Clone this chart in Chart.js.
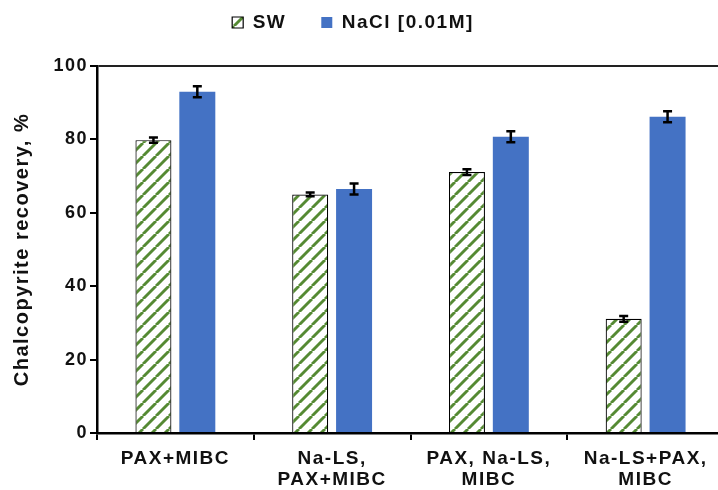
<!DOCTYPE html>
<html>
<head>
<meta charset="utf-8">
<script src="https://cdn.jsdelivr.net/npm/chart.js@4/dist/chart.umd.min.js"></script>
<style>
  html, body { margin: 0; padding: 0; background: #fff; overflow: hidden; }
  #wrap { position: relative; width: 728px; height: 490px; }
</style>
</head>
<body>
<div id="wrap"><canvas id="c" width="728" height="490"></canvas></div>
<script>
// Flotation conditions (x categories), one label line per array entry
const categories = [
  ['PAX+MIBC'],
  ['Na-LS,', 'PAX+MIBC'],
  ['PAX, Na-LS,', 'MIBC'],
  ['Na-LS+PAX,', 'MIBC']
];
const seriesNames = ['SW', 'NaCl [0.01M]'];

// Chalcopyrite recovery, % and standard deviation
const swRecovery   = [79.8, 65.0, 71.1, 31.1];
const swError      = [0.7, 0.5, 0.8, 0.8];
const naclRecovery = [93.0, 66.5, 80.7, 86.2];
const naclError    = [1.5, 1.5, 1.5, 1.5];

const yTicks = [0, 20, 40, 60, 80, 100];
const yTitle = 'Chalcopyrite recovery, %';

const FONT = '"Liberation Sans", Arial, sans-serif';
const TEXT = '#111';

// Green diagonal hatch for the seawater bars
function makeHatch() {
  const s = 13;
  const cv = document.createElement('canvas');
  cv.width = s; cv.height = s;
  const g = cv.getContext('2d');
  g.fillStyle = '#ffffff';
  g.fillRect(0, 0, s, s);
  g.strokeStyle = '#558a33';
  g.lineWidth = 2.9;
  g.beginPath();
  for (const k of [-s, 0, s]) {
    g.moveTo(k, s);
    g.lineTo(k + s, 0);
  }
  g.stroke();
  return g.createPattern(cv, 'repeat');
}

// Slightly wider tracking for all chart text
const tracking = {
  id: 'tracking',
  beforeUpdate(chart) { chart.ctx.letterSpacing = '1.5px'; },
  beforeLayout(chart) { chart.ctx.letterSpacing = '1.5px'; },
  beforeDraw(chart) { chart.ctx.letterSpacing = '1.5px'; }
};

// Fixed legend band height above the plot
const legendBand = {
  id: 'legendBand',
  beforeInit(chart) {
    const fit = chart.legend.fit;
    chart.legend.fit = function () {
      fit.call(chart.legend);
      this.height = 88;
    };
  }
};

// Error bars drawn at each bar centre from the value arrays
const errorBars = {
  id: 'errorBars',
  afterDatasetsDraw(chart) {
    const ctx = chart.ctx;
    const y = chart.scales.y;
    const errs = [swError, naclError];
    chart.data.datasets.forEach((ds, i) => {
      const meta = chart.getDatasetMeta(i);
      meta.data.forEach((bar, j) => {
        const v = ds.data[j], e = errs[i][j];
        const top = y.getPixelForValue(v + e);
        const bot = y.getPixelForValue(v - e);
        const x = bar.x;
        ctx.save();
        ctx.strokeStyle = '#000';
        ctx.lineWidth = 2.5;
        ctx.beginPath();
        ctx.moveTo(x, top); ctx.lineTo(x, bot);
        ctx.moveTo(x - 4.5, top); ctx.lineTo(x + 4.5, top);
        ctx.moveTo(x - 4.5, bot); ctx.lineTo(x + 4.5, bot);
        ctx.stroke();
        ctx.restore();
      });
    });
  }
};

Chart.defaults.font.family = FONT;
Chart.defaults.font.weight = 'bold';
Chart.defaults.color = TEXT;

new Chart(document.getElementById('c'), {
  type: 'bar',
  data: {
    labels: categories,
    datasets: [
      {
        label: seriesNames[0],
        data: swRecovery,
        backgroundColor: makeHatch(),
        borderColor: '#000',
        borderWidth: 1.2
      },
      {
        label: seriesNames[1],
        data: naclRecovery,
        backgroundColor: '#4472c4',
        borderWidth: 0
      }
    ]
  },
  options: {
    responsive: false,
    animation: false,
    devicePixelRatio: 1,
    categoryPercentage: 0.56,
    barPercentage: 0.82,
    layout: { padding: { top: -22, left: -18, right: 4, bottom: 0 } },
    plugins: {
      legend: {
        position: 'top',
        labels: {
          boxWidth: 11,
          boxHeight: 11,
          padding: 35,
          color: TEXT,
          font: { family: FONT, size: 19, weight: 'bold' }
        }
      },
      tooltip: { enabled: false }
    },
    scales: {
      x: {
        ticks: {
          color: TEXT,
          font: { family: FONT, size: 19, weight: 'bold', lineHeight: 1.1 },
          padding: 8,
          maxRotation: 0,
          autoSkip: false
        },
        grid: {
          offset: true,
          drawOnChartArea: false,
          drawTicks: true,
          tickLength: 7,
          color: '#000',
          lineWidth: 2
        },
        border: { color: '#000', width: 2.5 },
        afterFit(s) { s.height = 57; }
      },
      y: {
        min: 0,
        max: 100,
        afterBuildTicks(s) { s.ticks = yTicks.map(v => ({ value: v })); },
        ticks: {
          color: TEXT,
          font: { family: FONT, size: 18, weight: 'bold' },
          padding: 2
        },
        grid: {
          drawOnChartArea: true,
          color: c => (c.tick && c.tick.value === 100) ? '#222' : 'rgba(0,0,0,0)',
          tickColor: '#000',
          lineWidth: 2,
          drawTicks: true,
          tickLength: 7
        },
        border: { color: '#000', width: 2.5 },
        title: {
          display: true,
          text: yTitle,
          color: TEXT,
          font: { family: FONT, size: 20, weight: 'bold', lineHeight: 1.2 },
          padding: { top: 28, bottom: 0 }
        },
        afterFit(s) { s.width = 115; }
      }
    }
  },
  plugins: [tracking, legendBand, errorBars]
});
</script>
</body>
</html>
